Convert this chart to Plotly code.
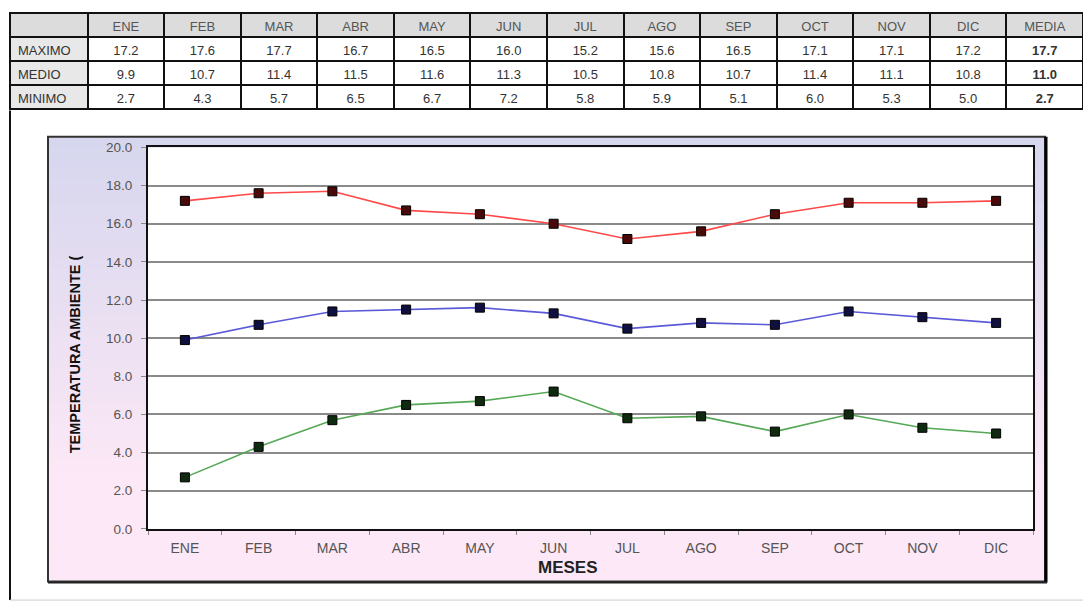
import plotly.graph_objects as go

# ---------------- data ----------------
meses = ["ENE", "FEB", "MAR", "ABR", "MAY", "JUN", "JUL", "AGO", "SEP", "OCT", "NOV", "DIC"]
maximo = [17.2, 17.6, 17.7, 16.7, 16.5, 16.0, 15.2, 15.6, 16.5, 17.1, 17.1, 17.2]
medio = [9.9, 10.7, 11.4, 11.5, 11.6, 11.3, 10.5, 10.8, 10.7, 11.4, 11.1, 10.8]
minimo = [2.7, 4.3, 5.7, 6.5, 6.7, 7.2, 5.8, 5.9, 5.1, 6.0, 5.3, 5.0]
fila_labels = ["MAXIMO", "MEDIO", "MINIMO"]
media = [17.7, 11.0, 2.7]
y_ticks = [0, 2, 4, 6, 8, 10, 12, 14, 16, 18, 20]

W, H = 1083, 611
FONT = "Liberation Sans, Arial, sans-serif"

def px(x):
    return x / W

def py(y):
    return 1 - y / H

fig = go.Figure()

# ---------------- table ----------------
header_vals = [""] + meses + ["MEDIA"]
cell_vals = [fila_labels]
for i in range(len(meses)):
    cell_vals.append([f"{maximo[i]:.1f}", f"{medio[i]:.1f}", f"{minimo[i]:.1f}"])
cell_vals.append([f"{v:.1f}" for v in media])

ncol = len(meses) + 2
col_fill = ["#e8e8e8"] + ["white"] * len(meses) + ["white"]
fig.add_trace(go.Table(
    domain=dict(x=[px(10), 1.0], y=[py(125), py(6)]),
    columnwidth=[78] + [77] * len(meses) + [77],
    header=dict(values=header_vals, height=24, fill_color="#dcdcdc",
                line=dict(color="#111", width=2), align="center",
                font=dict(family=FONT, size=13, color="#555")),
    cells=dict(values=cell_vals, height=24, fill_color=col_fill,
               line=dict(color="#111", width=2),
               align=["left"] + ["center"] * (len(meses) + 1),
               font=dict(family=FONT, size=13, color="#333",
                         weight=["normal"] * (ncol - 1) + ["bold"])),
))

# ---------------- lines ----------------
series = [
    (maximo, "#ff4a4a", "#4a0a0a"),
    (medio, "#5a5ad8", "#101040"),
    (minimo, "#55a855", "#0f2a0f"),
]
for vals, lc, mc in series:
    fig.add_trace(go.Scatter(
        x=meses, y=vals, mode="lines+markers",
        line=dict(color=lc, width=1.6),
        marker=dict(symbol="square", size=9, color=mc, line=dict(color="#000", width=1)),
        showlegend=False, hoverinfo="x+y",
    ))

# ---------------- background shapes ----------------
shapes = []
box_l, box_t, box_r, box_b = 48, 133, 1045, 589
top_c = (214, 214, 238)
bot_c = (252, 232, 246)
n = 40
for k in range(n):
    t = k / (n - 1)
    c = tuple(int(round(top_c[j] + (bot_c[j] - top_c[j]) * min(1, t * 1.3))) for j in range(3))
    y0 = box_t + (box_b - box_t) * k / n
    y1 = box_t + (box_b - box_t) * (k + 1) / n + 0.6
    shapes.append(dict(type="rect", xref="paper", yref="paper", layer="below",
                       x0=px(box_l), x1=px(box_r), y0=py(y0), y1=py(y1),
                       fillcolor="rgb(%d,%d,%d)" % c, line=dict(width=0)))
# plot area white
shapes.append(dict(type="rect", xref="paper", yref="paper", layer="below",
                   x0=px(148), x1=px(1033), y0=py(535), y1=py(144),
                   fillcolor="white", line=dict(width=0)))
# box border
shapes.append(dict(type="rect", xref="paper", yref="paper", layer="above",
                   x0=px(box_l), x1=px(box_r), y0=py(box_b), y1=py(box_t),
                   fillcolor="rgba(0,0,0,0)", line=dict(color="#333", width=2)))
shapes.append(dict(type="line", xref="paper", yref="paper", layer="above",
                   x0=px(box_r + 1), x1=px(box_r + 1), y0=py(box_b + 1), y1=py(box_t),
                   line=dict(color="#000", width=3)))
shapes.append(dict(type="line", xref="paper", yref="paper", layer="above",
                   x0=px(box_l), x1=px(box_r + 2), y0=py(box_b + 1), y1=py(box_b + 1),
                   line=dict(color="#222", width=2)))
# outer frame
shapes.append(dict(type="line", xref="paper", yref="paper", layer="above",
                   x0=px(10), x1=px(10), y0=py(608), y1=py(106),
                   line=dict(color="#111", width=2)))
shapes.append(dict(type="line", xref="paper", yref="paper", layer="above",
                   x0=px(10), x1=1, y0=py(608), y1=py(608),
                   line=dict(color="#ccc", width=1)))

annotations = [
    dict(text="<b>TEMPERATURA AMBIENTE (</b>", xref="paper", yref="paper",
         x=px(75), y=py(356), textangle=-90, showarrow=False,
         font=dict(family=FONT, size=14.5, color="#111"),
         xanchor="center", yanchor="middle"),
    dict(text="<b>MESES</b>", xref="paper", yref="paper",
         x=px(568), y=py(575), showarrow=False,
         font=dict(family=FONT, size=17, color="#222"),
         xanchor="center", yanchor="middle"),
]

fig.update_layout(
    width=W, height=H,
    margin=dict(l=0, r=0, t=0, b=0),
    paper_bgcolor="white",
    plot_bgcolor="rgba(0,0,0,0)",
    shapes=shapes,
    annotations=annotations,
    showlegend=False,
    xaxis=dict(domain=[px(148), px(1033)], type="category", range=[-0.5, 11.5],
               tickson="boundaries", ticks="outside", ticklen=4, tickcolor="#888",
               ticklabelstandoff=5,
               showgrid=False, showline=True, linecolor="#111", linewidth=2, mirror=True,
               tickfont=dict(family=FONT, size=14, color="#555"), zeroline=False),
    yaxis=dict(domain=[py(535), py(144)], range=[0, 20], tickvals=y_ticks,
               tickformat=".1f", ticks="outside", ticklen=5, tickcolor="#888",
               ticklabelstandoff=6,
               showgrid=True, gridcolor="#8a8a8a", gridwidth=1.5,
               showline=True, linecolor="#111", linewidth=2, mirror=True,
               tickfont=dict(family=FONT, size=13.5, color="#555"), zeroline=False),
)

fig.write_html("out.html", config={"displayModeBar": False},
               post_script="document.body.style.margin='0';document.body.style.overflow='hidden';")
